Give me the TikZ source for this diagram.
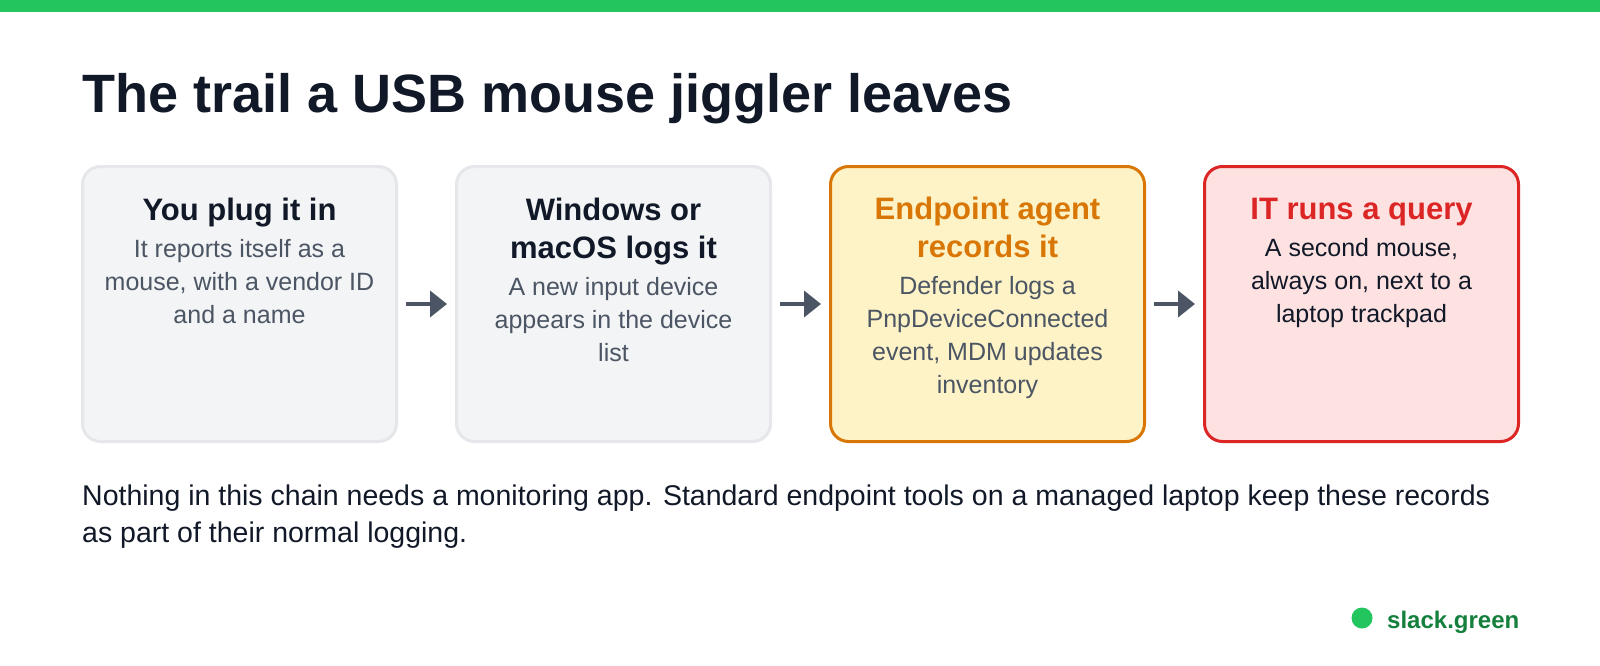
\documentclass[tikz,border=0pt]{standalone}
\usepackage{fontspec}
\setmainfont{Liberation Sans}
\usetikzlibrary{arrows.meta}
\definecolor{brandgreen}{HTML}{22C55E}
\definecolor{darkgreen}{HTML}{15803D}
\definecolor{ink}{HTML}{111827}
\definecolor{bodygray}{HTML}{4B5563}
\definecolor{grayfill}{HTML}{F3F4F6}
\definecolor{grayline}{HTML}{E5E7EB}
\definecolor{orangeline}{HTML}{D97706}
\definecolor{orangefill}{HTML}{FEF3C7}
\definecolor{redline}{HTML}{DC2626}
\definecolor{redfill}{HTML}{FEE2E2}
\tikzset{
  card/.style={draw, line width=3pt, rounded corners=18pt, minimum width=314pt, minimum height=275pt, inner sep=0pt},
  graycard/.style={card, draw=grayline, fill=grayfill},
  orangecard/.style={card, draw=orangeline, fill=orangefill},
  redcard/.style={card, draw=redline, fill=redfill},
  cardtext/.style={anchor=base, inner sep=0pt},
  flowarrow/.style={draw=bodygray, line width=4pt, -{Triangle[length=17pt,width=26pt]}, shorten <=8pt, shorten >=8pt}
}
% one centred line of a card title / body
\newcommand{\tline}[2]{\hbox to 300pt{\hss\fontsize{31}{38}\selectfont\bfseries\color{#1}#2\hss}}
\newcommand{\bline}[2]{\hbox to 300pt{\hss\fontsize{25}{33}\selectfont\color{#1}#2\hss}}
\newcommand{\tobody}{\vskip4pt\baselineskip=33pt\relax}
\newcommand{\nline}[1]{\hbox{\fontsize{28.5}{37}\selectfont\color{ink}#1}}
\begin{document}
\begin{tikzpicture}[x=1pt,y=-1pt]
\useasboundingbox (0,0) rectangle (1600,666);
\fill[white] (0,0) rectangle (1600,666);
\fill[brandgreen] (0,0) rectangle (1600,12);
\node[anchor=base west, inner sep=0pt, text=ink, font=\fontsize{54}{60}\selectfont\bfseries] (title) at (82,113) {The trail a USB mouse jiggler leaves};
\node[graycard] (b1) at (239.5,304) {};
\node[graycard] (b2) at (613.5,304) {};
\node[orangecard] (b3) at (987.5,304) {};
\node[redcard] (b4) at (1361.5,304) {};
\node[cardtext] (t1) at (239.5,220) {\vtop{\baselineskip=38pt
  \tline{ink}{You plug it in}\tobody
  \bline{bodygray}{It reports itself as a}
  \bline{bodygray}{mouse, with a vendor ID}
  \bline{bodygray}{and a name}}};
\node[cardtext] (t2) at (613.5,220) {\vtop{\baselineskip=38pt
  \tline{ink}{Windows or}
  \tline{ink}{macOS logs it}\tobody
  \bline{bodygray}{A new input device}
  \bline{bodygray}{appears in the device}
  \bline{bodygray}{list}}};
\node[cardtext] (t3) at (987.5,219) {\vtop{\baselineskip=38pt
  \tline{orangeline}{Endpoint agent}
  \tline{orangeline}{records it}\tobody
  \bline{bodygray}{Defender logs a}
  \bline{bodygray}{PnpDeviceConnected}
  \bline{bodygray}{event, MDM updates}
  \bline{bodygray}{inventory}}};
\node[cardtext] (t4) at (1361.5,219) {\vtop{\baselineskip=38pt
  \tline{redline}{IT runs a query}\tobody
  \bline{ink}{A second mouse,}
  \bline{ink}{always on, next to a}
  \bline{ink}{laptop trackpad}}};
\draw[flowarrow] (b1.east) -- (b2.west);
\draw[flowarrow] (b2.east) -- (b3.west);
\draw[flowarrow] (b3.east) -- (b4.west);
\node[anchor=base west, inner sep=0pt] (note) at (82,505) {\vtop{\baselineskip=37pt
  \nline{Nothing in this chain needs a monitoring app. Standard endpoint tools on a managed laptop keep these records}
  \nline{as part of their normal logging.}}};
\fill[brandgreen] (1362,618) circle (10.5);
\node[anchor=base west, inner sep=0pt, text=darkgreen, font=\fontsize{24}{28}\selectfont\bfseries] (logo) at (1387,628) {slack.green};
\end{tikzpicture}
\end{document}
